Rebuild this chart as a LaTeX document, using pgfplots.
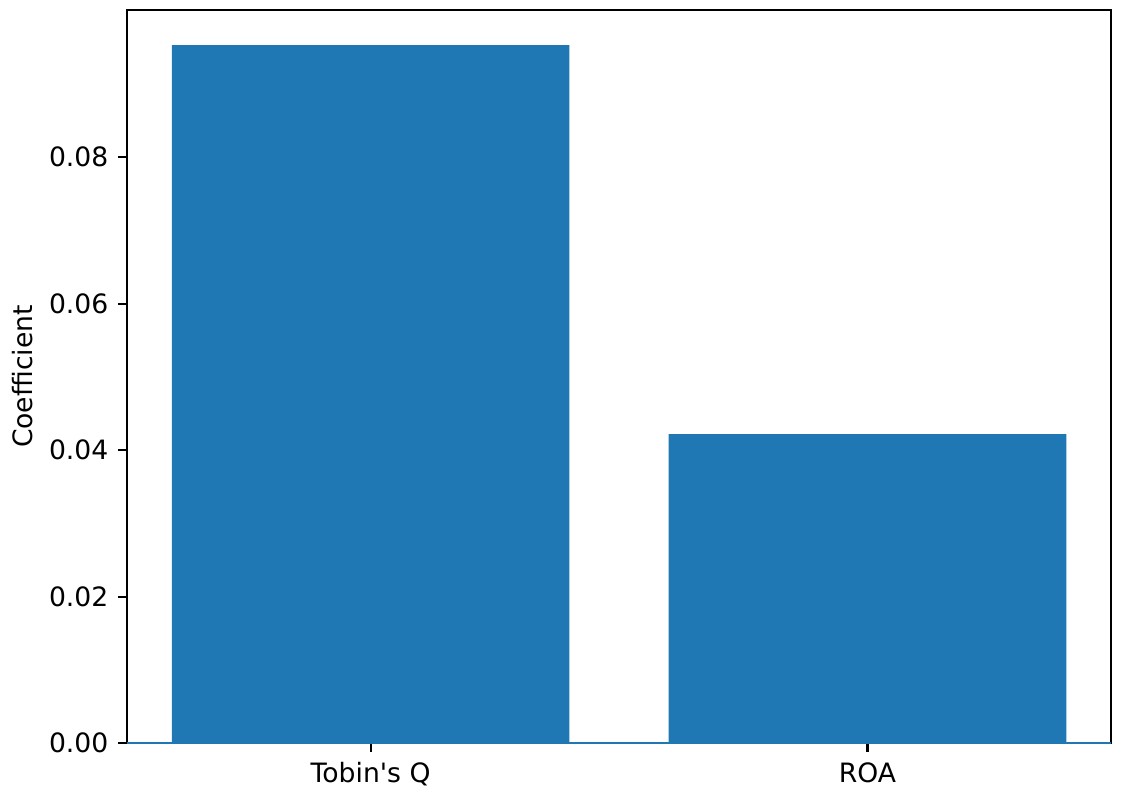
\documentclass[border=0pt]{standalone}
\usepackage{pgfplots}
\pgfplotsset{compat=1.18}
\usetikzlibrary{calc}
\usepackage{fontspec}
\setmainfont{DejaVu Sans}
\definecolor{mplblue}{HTML}{1F77B4}
\begin{document}
\begin{tikzpicture}
\begin{axis}[
  scale only axis,
  width=417.4pt, height=311.0pt,
  xmin=-0.49, xmax=1.49,
  ymin=0, ymax=0.1001,
  xtick={0,1}, xticklabels={Tobin\textquotesingle s Q, ROA},
  ytick={0,0.02,0.04,0.06,0.08},
  yticklabel style={xshift=-0.6pt, /pgf/number format/.cd, fixed, fixed zerofill, precision=2},
  /pgf/number format/assume math mode=true,
  tick align=outside, tick pos=left,
  major tick length=3.8pt,
  every tick/.style={black, line width=0.87pt},
  axis line style={line width=0.87pt},
  ticklabel style={font=\fontsize{11.3}{13.5}\selectfont},
  ylabel={Coefficient},
  every axis y label/.style={at={($(axis description cs:0,0.5)+(-44.5pt,0)$)}, rotate=90, anchor=center, font=\fontsize{11.3}{13.5}\selectfont},
  xticklabel style={yshift=-0.8pt},
  ybar, bar width=0.8,
]
\addplot[fill=mplblue, draw=none, bar shift=0pt] coordinates {(0,0.0953) (1,0.0422)};
\draw[mplblue, line width=0.6pt] (axis cs:-0.49,0) -- (axis cs:1.49,0);
\end{axis}
\path ($(current axis.south west)+(-53.9pt,-22.9pt)$) rectangle ($(current axis.north east)+(4.67pt,4.24pt)$);
\end{tikzpicture}
\end{document}
